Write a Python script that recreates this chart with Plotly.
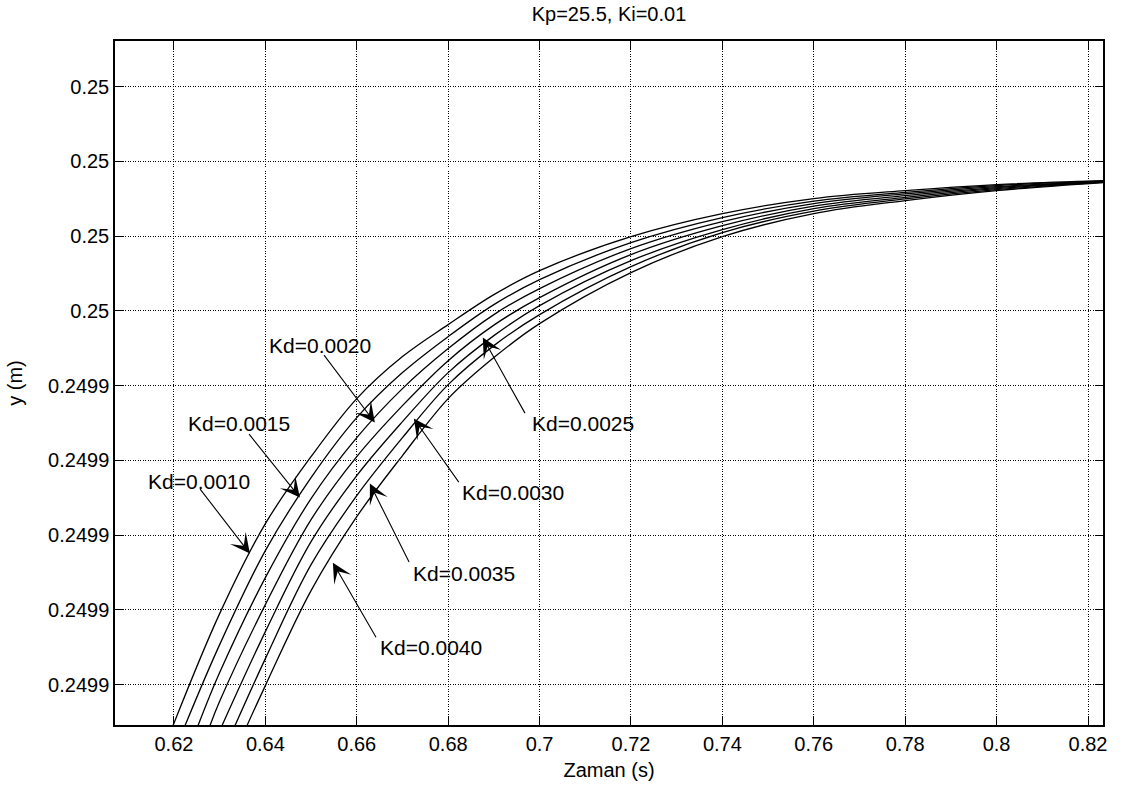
import numpy as np
import plotly.graph_objects as go

# ---------------- data ----------------
KD_LABELS = ["Kd=0.0010", "Kd=0.0015", "Kd=0.0020", "Kd=0.0025",
             "Kd=0.0030", "Kd=0.0035", "Kd=0.0040"]

# where each curve enters the plot at the bottom edge
Y_START = 0.2499045
T_START = [0.61978, 0.62241, 0.62525, 0.62787, 0.63050, 0.63334, 0.63597]

# y (m) of each curve at these times (None = below the visible range)
T_COLS = [0.63, 0.64, 0.65, 0.66, 0.67, 0.68, 0.69, 0.70,
          0.72, 0.74, 0.76, 0.78, 0.80, 0.8233]
Y_KD0010 = [0.24991950, 0.24993154, 0.24994050, 0.24994826, 0.24995388, 0.24995816,
            0.24996217, 0.24996538, 0.24996993, 0.24997301, 0.24997502, 0.24997609,
            0.24997689, 0.24997742]
Y_KD0015 = [0.24991535, 0.24992793, 0.24993769, 0.24994572, 0.24995174, 0.24995656,
            0.24996084, 0.24996418, 0.24996913, 0.24997248, 0.24997468, 0.24997586,
            0.24997676, 0.24997738]
Y_KD0020 = [0.24991161, 0.24992431, 0.24993488, 0.24994304, 0.24994960, 0.24995495,
            0.24995950, 0.24996298, 0.24996833, 0.24997194, 0.24997435, 0.24997565,
            0.24997662, 0.24997733]
Y_KD0025 = [0.24990777, 0.24992070, 0.24993207, 0.24994050, 0.24994732, 0.24995334,
            0.24995809, 0.24996177, 0.24996753, 0.24997140, 0.24997401, 0.24997542,
            0.24997649, 0.24997729]
Y_KD0030 = [None, 0.24991709, 0.24992913, 0.24993796, 0.24994518, 0.24995174,
            0.24995669, 0.24996070, 0.24996672, 0.24997087, 0.24997368, 0.24997519,
            0.24997635, 0.24997725]
Y_KD0035 = [None, 0.24991348, 0.24992605, 0.24993528, 0.24994304, 0.24995013,
            0.24995535, 0.24995950, 0.24996592, 0.24997047, 0.24997334, 0.24997498,
            0.24997622, 0.24997720]
Y_KD0040 = [None, 0.24990987, 0.24992258, 0.24993247, 0.24994064, 0.24994826,
            0.24995375, 0.24995829, 0.24996512, 0.24996993, 0.24997301, 0.24997475,
            0.24997609, 0.24997716]
Y_SERIES = [Y_KD0010, Y_KD0015, Y_KD0020, Y_KD0025, Y_KD0030, Y_KD0035, Y_KD0040]

X_TICKS = [0.62, 0.64, 0.66, 0.68, 0.70, 0.72, 0.74, 0.76, 0.78, 0.80, 0.82]
X_TICKTEXT = ["0.62", "0.64", "0.66", "0.68", "0.7", "0.72", "0.74",
              "0.76", "0.78", "0.8", "0.82"]
Y_TICKS = [0.24991, 0.24992, 0.24993, 0.24994, 0.24995,
           0.24996, 0.24997, 0.24998, 0.24999]
Y_TICKTEXT = ["0.2499"] * 5 + ["0.25"] * 4

# annotation labels: (text left x, text y), arrow tail (x, y), arrow tip (x, y)
LABEL_POS = [(0.61388, 0.24993716), (0.62262, 0.24994492), (0.64034, 0.24995535),
             (0.69786, 0.24994492), (0.68255, 0.24993569), (0.67183, 0.24992485),
             (0.66461, 0.24991495)]
ARROW_TAIL = [(0.62547, 0.24993635), (0.63618, 0.24994371), (0.65259, 0.24995428),
              (0.69698, 0.24994612), (0.68255, 0.24993689), (0.67161, 0.24992619),
              (0.66440, 0.24991615)]
ARROW_TIP = [(0.63662, 0.24992753), (0.64756, 0.24993502), (0.66396, 0.24994505),
             (0.68758, 0.24995642), (0.67249, 0.24994559), (0.66287, 0.24993689),
             (0.65477, 0.24992632)]

X_RANGE = [0.60710, 0.82328]
Y_RANGE = [0.2499046, 0.2499961]

FONT = "Liberation Sans, Arial, sans-serif"
FS = 20
FS_ANN = 21

fig = go.Figure()
for k, name in enumerate(KD_LABELS):
    t = [T_START[k]]
    y = [Y_START]
    for tc, yc in zip(T_COLS, Y_SERIES[k]):
        if yc is not None:
            t.append(tc)
            y.append(yc)
    fig.add_trace(go.Scatter(x=t, y=y, mode="lines", name=name,
                             line=dict(color="black", width=1.3, shape="spline",
                                       smoothing=1.0),
                             showlegend=False, hoverinfo="skip"))

annotations = []
for k, name in enumerate(KD_LABELS):
    annotations.append(dict(x=LABEL_POS[k][0], y=LABEL_POS[k][1], xref="x", yref="y",
                            text=name, showarrow=False, xanchor="left",
                            yanchor="middle",
                            font=dict(family=FONT, size=FS_ANN, color="black")))
    annotations.append(dict(x=ARROW_TIP[k][0], y=ARROW_TIP[k][1], xref="x", yref="y",
                            ax=ARROW_TAIL[k][0], ay=ARROW_TAIL[k][1],
                            axref="x", ayref="y", text="", showarrow=True,
                            arrowhead=3, arrowsize=3.0, arrowwidth=1.1,
                            arrowcolor="black", standoff=0, startstandoff=0))

axis_common = dict(showline=True, linecolor="black", linewidth=1.5, mirror="ticks",
                   ticks="inside", ticklen=8, tickwidth=1, tickcolor="black",
                   showgrid=True, gridcolor="black", gridwidth=1, griddash="1px,1.5px",
                   zeroline=False,
                   tickfont=dict(family=FONT, size=FS, color="black"))

fig.update_layout(
    width=1127, height=790,
    margin=dict(l=115, r=24, t=41, b=65),
    paper_bgcolor="white", plot_bgcolor="white",
    title=dict(text="Kp=25.5, Ki=0.01", x=0.5, xref="paper", xanchor="center",
               y=1 - 14 / 790, yref="container", yanchor="middle",
               font=dict(family=FONT, size=FS, color="black")),
    xaxis=dict(range=X_RANGE, tickvals=X_TICKS, ticktext=X_TICKTEXT,
               title=dict(text="Zaman (s)", standoff=9,
                          font=dict(family=FONT, size=FS, color="black")),
               **axis_common),
    yaxis=dict(range=Y_RANGE, tickvals=Y_TICKS, ticktext=Y_TICKTEXT,
               title=dict(text="y (m)", standoff=20,
                          font=dict(family=FONT, size=FS, color="black")),
               **axis_common),
    annotations=annotations,
)

fig.write_html("out.html")
